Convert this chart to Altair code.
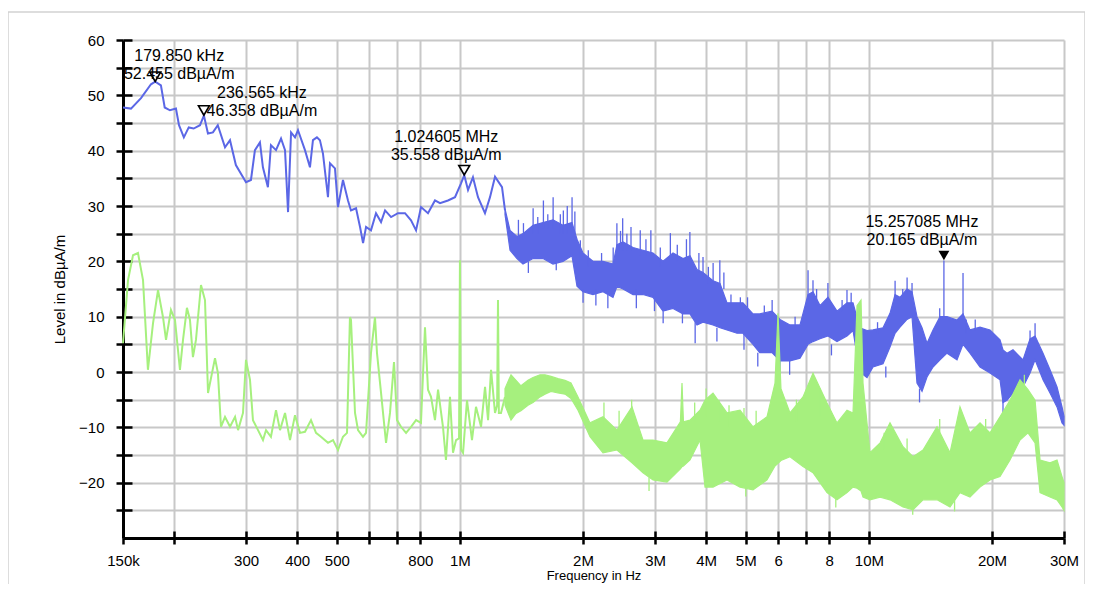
import altair as alt
import pandas as pd

# ---------------- data (frequency in MHz, level in dBµA/m) ----------------
blue_f = [0.150, 0.1569, 0.1660, 0.1756, 0.17985, 0.1857, 0.1897, 0.1954, 0.2021, 0.2056,
          0.2113, 0.2172, 0.2233, 0.2314, 0.236565, 0.2420, 0.2489, 0.2558, 0.2664, 0.2740,
          0.2832, 0.2998, 0.3083, 0.3153, 0.3243, 0.3298, 0.3392, 0.3450, 0.3550, 0.3652,
          0.3735, 0.3799, 0.3864, 0.3951, 0.4018, 0.4179, 0.4298, 0.4371, 0.4470, 0.4546,
          0.4624, 0.4757, 0.4811, 0.4948, 0.5033, 0.5176, 0.5324, 0.5415, 0.5571, 0.5698,
          0.5796, 0.5894, 0.6060, 0.6234, 0.6413, 0.6560, 0.6786, 0.7054, 0.7340, 0.7593,
          0.7810, 0.8032, 0.8354, 0.8689, 0.8939, 0.9348, 0.9726, 1.0061, 1.024605, 1.0466,
          1.0761, 1.1070, 1.1514, 1.1845, 1.2184, 1.2673, 1.2888]
blue_v = [47.8, 47.6, 49.5, 52.0, 52.455, 51.8, 47.8, 47.3, 47.6, 44.6,
          42.4, 44.2, 44.0, 44.6, 46.358, 43.1, 43.3, 44.6, 40.6, 41.9,
          37.4, 34.3, 34.7, 40.1, 41.5, 37.0, 33.4, 41.0, 40.1, 42.2,
          40.1, 28.9, 43.3, 42.4, 43.7, 40.1, 37.0, 41.9, 42.4, 41.9,
          39.5, 31.6, 37.7, 36.8, 29.8, 34.7, 31.0, 29.2, 29.6, 26.2,
          23.3, 26.2, 25.6, 28.7, 27.1, 29.2, 28.0, 28.7, 28.7, 27.4,
          25.6, 29.8, 28.7, 31.0, 30.5, 31.0, 31.6, 34.1, 35.558, 32.9,
          35.2, 31.6, 28.7, 31.6, 35.3, 33.4, 29.2]

# dense (noisy) part of the blue trace: core band limits
blueband_f = [1.2888, 1.3259, 1.3787, 1.4264, 1.5091, 1.5962, 1.6887, 1.7865, 1.8792, 1.9331,
              1.9994, 2.1151, 2.2378, 2.3675, 2.4211, 2.5047, 2.6500, 2.8028, 2.9655, 3.1373,
              3.3191, 3.5118, 3.6524, 3.7996, 3.9298, 4.1574, 4.3240, 4.4984, 4.7590, 4.9219,
              5.2075, 5.4088, 5.7961, 6.0631, 6.4144, 6.7855, 7.0977, 7.3006, 7.5957, 7.9440,
              8.3572, 8.8418, 9.1448, 9.4982, 9.8958, 10.235, 10.829, 11.263, 11.587, 11.916,
              12.395, 12.749, 13.111, 13.488, 13.872, 14.351, 14.926, 15.526, 16.425, 16.989,
              17.670, 18.697, 19.780, 20.924, 21.280, 21.765, 22.512, 23.817, 24.776, 25.489,
              26.657, 27.728, 28.843, 29.666, 30.0]
blueband_lo = [28.5, 22.0, 20.5, 19.5, 20.5, 20.5, 19.5, 20.0, 21.0, 15.5,
               14.5, 14.0, 14.5, 13.5, 15.5, 15.0, 14.0, 14.0, 13.5, 11.0,
               11.5, 10.5, 10.5, 8.5, 9.0, 8.5, 8.0, 7.6, 7.0, 7.0,
               5.0, 3.5, 3.5, 2.0, 2.0, 2.5, 5.0, 5.5, 6.0, 6.5,
               5.5, 6.5, 7.5, 0.0, -1.0, 0.9, 1.5, 4.5, 7.0, 8.1,
               9.5, 10.0, -2.0, -3.5, -0.9, 0.9, 2.2, 3.4, 2.2, 5.0,
               3.4, 0.9, -0.2, -1.4, -5.5, -5.1, -3.8, -2.7, -0.2, 2.2,
               -1.4, -3.8, -6.3, -9.2, -9.6]
blueband_hi = [29.5, 25.6, 24.5, 25.0, 26.5, 27.0, 27.5, 26.5, 27.0, 24.0,
               21.5, 20.0, 20.0, 19.5, 23.0, 23.5, 22.5, 22.0, 21.5, 20.0,
               21.5, 20.5, 21.0, 18.5, 18.0, 16.5, 16.0, 12.5, 12.5, 12.5,
               10.5, 10.5, 11.0, 9.5, 8.5, 8.5, 14.0, 14.5, 12.0, 13.5,
               11.0, 12.5, 12.5, 8.0, 7.5, 7.6, 8.0, 10.6, 14.0, 13.5,
               15.0, 14.5, 10.0, 8.0, 5.2, 7.6, 10.0, 10.0, 9.4, 10.5,
               7.6, 8.1, 7.6, 5.8, 4.0, 3.4, 4.0, 2.2, 6.0, 6.5,
               3.4, 0.4, -2.7, -6.3, -8.0]

# narrow spikes of the blue trace: frequency, start level, tip level
bluespike_f = [1.39, 1.43, 1.47, 1.51, 1.55, 1.60, 1.64, 1.69, 1.72, 1.76,
               1.79, 1.83, 1.88, 1.91, 1.97, 2.00, 2.06, 2.15, 2.22, 2.30,
               2.37, 2.42, 2.47, 2.50, 2.56, 2.62, 2.70, 2.76, 2.85, 2.93,
               2.99, 3.09, 3.14, 3.27, 3.40, 3.50, 3.58, 3.65, 3.76, 3.84,
               3.93, 4.05, 4.16, 4.25, 4.32, 4.42, 4.60, 4.85, 4.95, 5.05,
               5.35, 5.55, 5.80, 6.06, 6.40, 6.60, 7.10, 7.30, 7.45, 7.94,
               8.10, 8.60, 8.84, 9.05, 9.55, 10.5, 11.0, 11.59, 12.1, 12.40,
               12.75, 13.3, 14.9, 15.257085, 16.99, 17.3, 18.2, 21.28, 24.78, 25.49]
bluespike_base = [24, 24, 20, 25, 25, 26, 26, 26, 20, 25,
                  25, 25, 26, 25, 20, 15, 19, 15, 19, 14,
                  19, 22, 22, 22, 22, 22, 15, 21, 21, 21,
                  14, 19, 11, 20, 20, 11, 20, 20, 9, 18,
                  17, 16, 16, 8, 15, 15, 12, 12, 7, 11,
                  3.5, 10, 10.5, 2, 2, 8, 13, 13, 12, 13,
                  5, 11, 12, 12, 0, 7, 1, 13, 13, 14,
                  14, -3, 9.5, 9.5, 10, 7, 7.5, -5, 5.5, 6]
bluespike_tip = [27.5, 26.9, 17.9, 29.6, 28.0, 31.0, 28.5, 31.6, 18.4, 28.5,
                 29.2, 30.0, 31.6, 29.0, 23.8, 12.5, 22.0, 12.0, 21.5, 11.5,
                 22.5, 26.9, 25.5, 27.8, 25.0, 26.2, 11.5, 25.6, 24.0, 25.6,
                 11.0, 22.5, 8.8, 25.1, 23.0, 8.8, 24.0, 25.3, 5.2, 21.5,
                 20.8, 19.0, 19.7, 5.5, 20.2, 18.0, 14.0, 13.5, 4.0, 13.5,
                 1.0, 12.0, 13.0, -0.5, -0.5, 10.0, 18.4, 16.6, 15.0, 16.1,
                 3.0, 13.0, 14.8, 14.3, -1.8, 9.0, -1.0, 16.5, 15.0, 17.1,
                 16.1, -5.5, 11.5, 20.165, 17.9, 9.5, 9.5, -7.4, 7.5, 8.8]

green_f = [0.150, 0.1543, 0.1587, 0.1632, 0.1679, 0.1726, 0.1776, 0.1827, 0.1879, 0.1911,
           0.1965, 0.2010, 0.2067, 0.2103, 0.2150, 0.2187, 0.2224, 0.2262, 0.2327, 0.2380,
           0.2421, 0.2518, 0.2560, 0.2604, 0.2664, 0.2740, 0.2819, 0.2867, 0.2948, 0.2998,
           0.3066, 0.3118, 0.3208, 0.3299, 0.3356, 0.3450, 0.3550, 0.3631, 0.3735, 0.3841,
           0.3951, 0.4063, 0.4179, 0.4323, 0.4447, 0.4572, 0.4758, 0.4894, 0.5033, 0.5176,
           0.5295, 0.5383, 0.5415, 0.5539, 0.5634, 0.5794, 0.5894, 0.6060, 0.6199, 0.6269,
           0.6414, 0.6596, 0.6745, 0.6899, 0.7016, 0.7176, 0.7383, 0.7593, 0.7810, 0.8030,
           0.8214, 0.8354, 0.8498, 0.8689, 0.8841, 0.9089, 0.9243, 0.9456, 0.9617, 0.9783,
           0.995, 1.000, 1.006, 1.0177, 1.0405, 1.0702, 1.0946, 1.1262, 1.1518, 1.1716,
           1.1915, 1.2184, 1.233, 1.239, 1.245, 1.2600, 1.2888]
green_v = [5.2, 16.6, 21.1, 21.5, 16.6, 0.4, 8.8, 14.8, 9.9, 5.8,
           11.2, 9.4, 0.4, 5.8, 11.6, 9.4, 2.7, 5.8, 15.7, 13.0,
           -3.8, 2.5, -0.2, -9.9, -8.1, -9.9, -8.1, -10.5, -7.4, 2.2,
           -1.4, -8.7, -10.5, -12.3, -10.5, -11.7, -6.9, -10.5, -7.4, -12.3,
           -7.8, -11.0, -10.8, -8.7, -11.0, -11.7, -12.8, -12.3, -14.1, -11.7,
           -11.0, 9.9, 9.4, -7.4, -10.5, -11.7, -11.0, 3.4, 9.9, 3.4,
           -3.8, -12.8, -7.4, 1.8, -8.7, -9.9, -11.0, -9.9, -8.7, -9.2,
           8.1, -3.2, -4.5, -8.7, -3.2, -9.9, -15.9, -4.5, -14.6, -12.3,
           -12.0, 20.2, -14.0, -14.6, -5.1, -12.3, -6.3, -9.9, -2.7, -8.7,
           0.4, -7.4, -6.0, 13.0, -7.4, -7.4, -4.5]

greenband_f = [1.2888, 1.3332, 1.3714, 1.4100, 1.4670, 1.5091, 1.5696, 1.6142, 1.6698, 1.7372,
               1.8070, 1.8689, 1.9440, 2.080, 2.2378, 2.4211, 2.6348, 2.8028, 2.9655, 3.2084,
               3.46, 3.4916, 3.52, 3.6527, 3.8641, 3.9746, 4.1574, 4.4984, 4.8404, 5.2075,
               5.6352, 5.8945, 5.995, 6.095, 6.4144, 6.9008, 7.3006, 7.8994, 8.3572, 8.8418,
               9.1448, 9.3533, 9.5675, 9.6744, 10.062, 10.653, 11.263, 12.119, 12.820, 13.563,
               14.676, 15.790, 16.703, 17.670, 18.697, 19.780, 20.924, 22.133, 23.415, 24.496,
               25.489, 26.213, 27.728, 28.843, 29.666, 30.0]
greenband_lo = [-6.0, -8.7, -7.5, -7.0, -6.0, -5.5, -4.5, -4.0, -3.5, -3.8,
                -4.0, -4.8, -6.9, -11.7, -14.6, -14.1, -16.4, -18.2, -19.5, -19.9,
                -17.5, -17.1, -17.0, -15.9, -12.3, -20.8, -20.8, -19.5, -20.8, -21.3,
                -19.5, -17.0, -16.5, -16.0, -15.3, -17.1, -18.2, -21.8, -23.1, -21.8,
                -20.8, -21.0, -21.5, -22.6, -23.1, -22.6, -23.1, -24.4, -24.9, -23.1,
                -23.1, -24.4, -21.8, -22.6, -20.8, -19.5, -18.9, -15.9, -12.3, -11.0,
                -12.8, -21.8, -22.6, -23.1, -24.4, -25.0]
greenband_hi = [-3.0, -0.5, -1.5, -2.5, -1.5, -1.0, -0.5, -0.5, -0.8, -1.2,
                -1.5, -2.0, -4.5, -9.2, -8.1, -10.5, -6.3, -12.3, -12.3, -12.8,
                -9.0, -2.0, -9.0, -8.7, -6.9, -5.1, -3.8, -7.4, -6.9, -9.9,
                -8.1, -2.0, 10.6, -3.0, -7.4, -4.5, -0.2, -5.6, -9.2, -6.9,
                -7.4, 12.0, 13.0, -2.0, -14.6, -12.8, -9.2, -13.5, -15.3, -14.1,
                -9.9, -14.6, -6.3, -11.0, -9.2, -11.0, -8.1, -5.1, -1.4, -3.2,
                -5.1, -15.9, -16.4, -15.9, -18.9, -20.0]

greenspike_f = [2.25, 2.45, 2.63, 2.90, 3.75, 4.00, 4.30, 4.55, 4.95, 5.00,
                5.30, 6.65, 7.60, 8.30, 10.9, 12.4, 12.8, 14.9, 16.2, 19.3, 24.0]
greenspike_base = [-10, -11, -9, -19, -9, -8, -9, -10, -10, -20,
                   -11, -9, -8, -22, -14, -15, -24, -11, -23, -12, -3]
greenspike_tip = [-5.5, -7.0, -5.0, -21.5, -5.5, -3.0, -5.0, -6.0, -6.5, -22.5,
                  -7.0, -5.0, -3.0, -24.5, -11.0, -12.0, -25.8, -8.5, -25.2, -8.5, -0.5]

marker_f = [0.17985, 0.236565, 1.024605, 15.257085]
marker_v = [52.455, 46.358, 35.558, 20.165]
marker_text = ["179.850 kHz\n52.455 dBµA/m", "236.565 kHz\n46.358 dBµA/m",
               "1.024605 MHz\n35.558 dBµA/m", "15.257085 MHz\n20.165 dBµA/m"]
marker_filled = [False, False, False, True]

x_tick_values = [0.15, 0.2, 0.3, 0.4, 0.5, 0.6, 0.7, 0.8, 1, 2, 3, 4, 5, 6, 7, 8, 10, 20, 30]
x_tick_labels = ["150k", "", "300", "400", "500", "", "", "800", "1M", "2M", "3M", "4M",
                 "5M", "6", "", "8", "10M", "20M", "30M"]
y_tick_values = list(range(-25, 65, 5))

BLUE = "#5b67e6"
GREEN = "#a6f07e"
FONT = "Liberation Sans"

# ---------------- tables ----------------
blue_line = pd.DataFrame({"f": blue_f, "v": blue_v})
blue_band = pd.DataFrame({"f": blueband_f, "lo": blueband_lo, "hi": blueband_hi})
blue_spk = pd.DataFrame({"f": bluespike_f, "a": bluespike_base, "b": bluespike_tip})
green_line = pd.DataFrame({"f": green_f, "v": green_v})
green_band = pd.DataFrame({"f": greenband_f, "lo": greenband_lo, "hi": greenband_hi})
green_spk = pd.DataFrame({"f": greenspike_f, "a": greenspike_base, "b": greenspike_tip})
markers = pd.DataFrame({"f": marker_f, "v": marker_v, "txt": marker_text,
                        "filled": marker_filled, "id": [0, 1, 2, 3]})

# ---------------- scales / axes ----------------
label_expr = ""
for v, t in zip(x_tick_values, x_tick_labels):
    label_expr += f"abs(datum.value - {v}) < 1e-6 ? '{t}' : "
label_expr += "''"

x_scale = alt.Scale(type="log", domain=[0.15, 30], nice=False)
y_scale = alt.Scale(domain=[-30, 60], nice=False, zero=False)

x_axis = alt.Axis(values=x_tick_values, labelExpr=label_expr, title="Frequency in Hz",
                  grid=True, gridColor="#c8c8c8", gridWidth=2,
                  domainColor="black", domainWidth=3, tickColor="black", tickWidth=2.5,
                  tickSize=6, labelPadding=9, labelFlush=False, titlePadding=1,
                  titleFontSize=13)
y_axis = alt.Axis(values=y_tick_values,
                  labelExpr="datum.value % 10 === 0 ? datum.label : ''",
                  title="Level in dBµA/m",
                  grid=True, gridColor="#c8c8c8", gridWidth=2,
                  domainColor="black", domainWidth=3, tickColor="black", tickWidth=2.5,
                  tickSize=7, labelPadding=12, titlePadding=11)


def X():
    return alt.X("f:Q", scale=x_scale, axis=x_axis)


def Y(field):
    return alt.Y(field, scale=y_scale, axis=y_axis)


def band(df, color):
    return alt.Chart(df).mark_area(
        color=color, opacity=1, stroke=color, strokeWidth=1.2
    ).encode(x=X(), y=Y("lo:Q"), y2="hi:Q")


def spikes(df, color):
    return alt.Chart(df).mark_rule(color=color, strokeWidth=1.3).encode(
        x=X(), y=Y("a:Q"), y2="b:Q")


def trace(df, color):
    return alt.Chart(df).mark_line(color=color, strokeWidth=2).encode(x=X(), y=Y("v:Q"))


hollow = alt.Chart(markers).transform_filter("!datum.filled").mark_point(
    shape="triangle-down", size=120, filled=False, color="black", strokeWidth=1.6,
    yOffset=-5, opacity=1
).encode(x=X(), y=Y("v:Q"))

solid = alt.Chart(markers).transform_filter("datum.filled").mark_point(
    shape="triangle-down", size=120, filled=True, color="black", yOffset=-5, opacity=1
).encode(x=X(), y=Y("v:Q"))

text_offsets = [(24, -18), (58, -14), (-18, -30), (-22, -30)]
text_layers = []
for i, (ddx, ddy) in enumerate(text_offsets):
    text_layers.append(
        alt.Chart(markers).transform_filter(f"datum.id == {i}").mark_text(
            align="center", baseline="bottom", dx=ddx, dy=ddy, fontSize=16,
            font=FONT, color="black", lineBreak="\n", lineHeight=18
        ).encode(x=X(), y=Y("v:Q"), text="txt:N")
    )

frame = alt.Chart(alt.Data(values=[{"a": 1}])).mark_rect(
    fillOpacity=0, stroke="#d2d2d2", strokeWidth=1.5, clip=False
).encode(x=alt.value(-115), x2=alt.value(962), y=alt.value(-28), y2=alt.value(600))

main = alt.layer(
    frame,
    band(blue_band, BLUE), spikes(blue_spk, BLUE), trace(blue_line, BLUE),
    band(green_band, GREEN), spikes(green_spk, GREEN), trace(green_line, GREEN),
    hollow, solid, *text_layers
)

# inner halves of the crossing tick marks
inner_ticks = alt.Chart(markers).mark_point(opacity=0).encode(
    x=alt.X("f:Q", scale=x_scale,
            axis=alt.Axis(orient="bottom", offset=-7, tickSize=7, values=x_tick_values,
                          labels=False, domain=False, grid=False, title=None,
                          tickColor="black", tickWidth=2.5)),
    y=alt.Y("v:Q", scale=y_scale,
            axis=alt.Axis(orient="left", offset=-9, tickSize=9, values=y_tick_values,
                          labels=False, domain=False, grid=False, title=None,
                          tickColor="black", tickWidth=2.5)),
)

chart = alt.layer(main, inner_ticks).resolve_scale(
    x="independent", y="independent"
).properties(
    width=941, height=498,
    autosize=alt.AutoSizeParams(type="none"),
    padding={"left": 115, "top": 32, "right": 21, "bottom": 46},
).configure_view(stroke=None).configure_axis(
    labelFont=FONT, labelFontSize=15, labelColor="black",
    titleFont=FONT, titleFontSize=15, titleFontWeight="normal", titleColor="black",
)

chart.save("out.html", embed_options={"renderer": "svg", "actions": False})
